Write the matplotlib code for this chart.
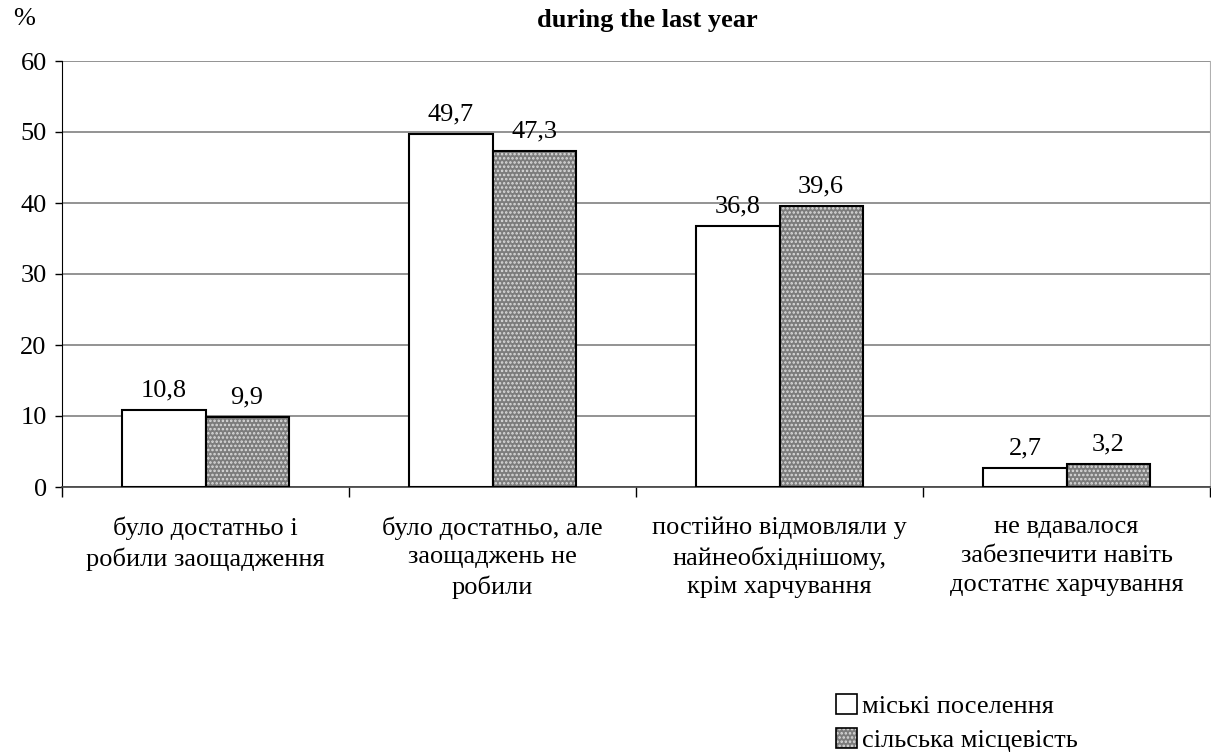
import numpy as np
import matplotlib
matplotlib.use("Agg")
import matplotlib.pyplot as plt
from matplotlib.legend_handler import HandlerTuple
from matplotlib.patches import Patch

categories = ["було достатньо і\nробили заощадження",
              "було достатньо, але\nзаощаджень не\nробили",
              "постійно відмовляли у\nнайнеобхіднішому,\nкрім харчування",
              "не вдавалося\nзабезпечити навіть\nдостатнє харчування"]
urban = [10.8, 49.7, 36.8, 2.7]
rural = [9.9, 47.3, 39.6, 3.2]
labels_urban = ["10,8", "49,7", "36,8", "2,7"]
labels_rural = ["9,9", "47,3", "39,6", "3,2"]
series_names = ["міські поселення", "сільська місцевість"]

plt.rcParams['font.family'] = ['Liberation Serif', 'DejaVu Serif']
plt.rcParams['hatch.linewidth'] = 1.2
FS = 19
GREY = "#7c7c7c"
DOTS = "#dcdcdc"

fig = plt.figure(figsize=(12.11, 7.52), dpi=100)
ax = fig.add_axes([62/1211, 1 - 487/752, 1148/1211, 426/752])

x = np.arange(len(categories))
w = 0.29

ax.bar(x - w/2, urban, w, color="white", edgecolor="black", linewidth=1.5, zorder=3)
# dotted grey fill, then a black outline on top
ax.bar(x + w/2, rural, w, color=GREY, edgecolor=DOTS, hatch="....", linewidth=0, zorder=3)
ax.bar(x + w/2, rural, w, color="none", edgecolor="black", linewidth=1.5, zorder=4)

for xi, v, t in zip(x - w/2, urban, labels_urban):
    ax.text(xi, v + 1.2, t, ha="center", va="bottom", fontsize=FS)
for xi, v, t in zip(x + w/2, rural, labels_rural):
    ax.text(xi, v + 1.2, t, ha="center", va="bottom", fontsize=FS)

ax.set_xlim(-0.5, len(categories) - 0.5)
ax.set_ylim(0, 60)
ax.set_yticks(range(0, 61, 10))
ax.yaxis.grid(True, color="#808080", linewidth=1.2, zorder=0)
ax.set_axisbelow(True)
ax.set_xticks(np.arange(-0.5, len(categories), 1))
ax.set_xticklabels([])
ax.set_xticks(x, minor=True)
ax.set_xticklabels(categories, minor=True, fontsize=FS, linespacing=1.4)
ax.tick_params(axis="x", which="minor", length=0, pad=21)
ax.tick_params(axis="x", which="major", length=7, width=1, direction="out")
ax.tick_params(axis="y", length=5, width=1, labelsize=FS, pad=6)
ax.spines["top"].set_visible(False)
ax.spines["right"].set_color("#b0b0b0")
ax.spines["left"].set_color("black")
ax.spines["bottom"].set_color("#404040")
ax.spines["bottom"].set_linewidth(1.2)

fig.text(24/1211, 1 - 19/752, "%", ha="center", va="center", fontsize=FS)
fig.text(647/1211, 1 - 21/752, "during the last year", ha="center", va="center",
         fontsize=FS, fontweight="bold")

h1 = Patch(facecolor="white", edgecolor="black", linewidth=1.2)
h2a = Patch(facecolor=GREY, edgecolor=DOTS, hatch="....", linewidth=0)
h2b = Patch(facecolor="none", edgecolor="black", linewidth=1.2)
fig.legend([h1, (h2a, h2b)], series_names, handler_map={tuple: HandlerTuple(ndivide=1)},
           loc="upper left", bbox_to_anchor=(836/1211, 1 - 694/752), frameon=False,
           fontsize=FS, handlelength=0.8, handleheight=0.8, handletextpad=0.2,
           labelspacing=0.35, borderaxespad=0, borderpad=0)

fig.savefig("out.png", dpi=100)
